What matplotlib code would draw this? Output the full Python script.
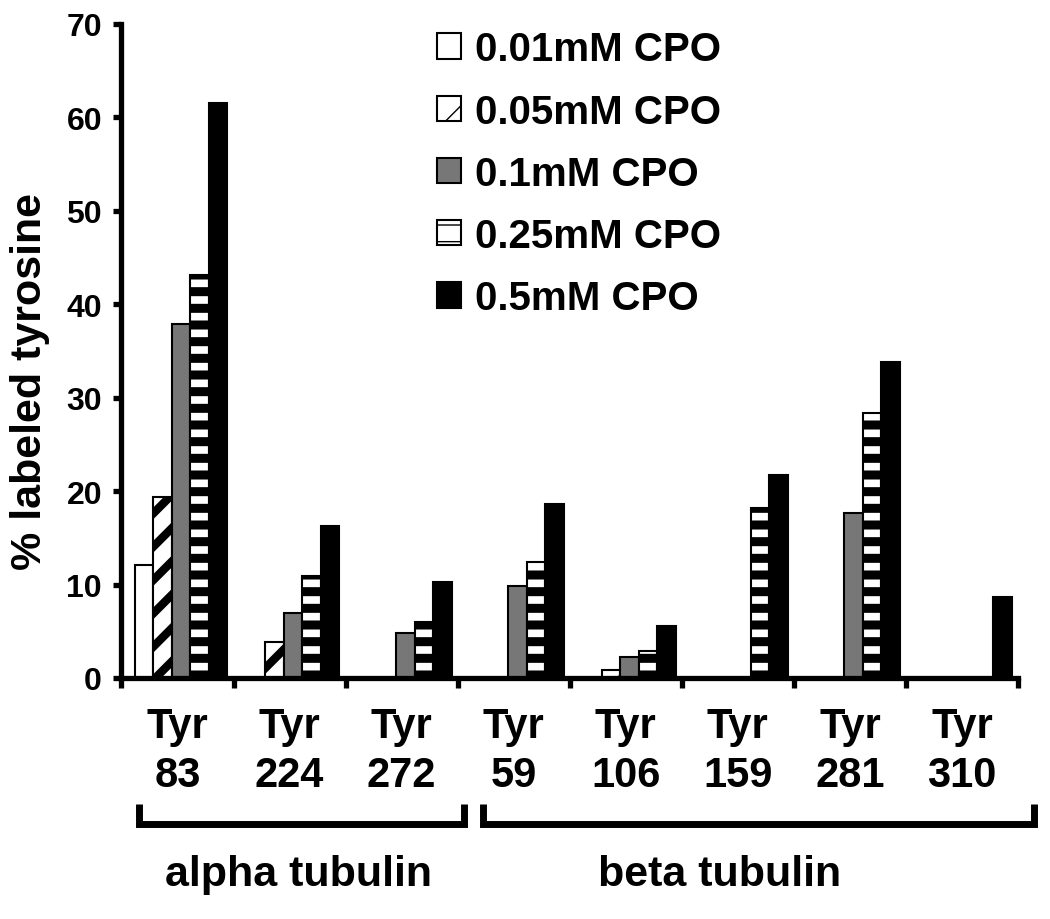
import numpy as np
import matplotlib
matplotlib.use("Agg")
import matplotlib.pyplot as plt
import matplotlib.transforms as mtransforms

plt.rcParams['font.family'] = ['Liberation Sans', 'DejaVu Sans']
plt.rcParams['font.weight'] = 'bold'
plt.rcParams['axes.labelweight'] = 'bold'

sites = ['Tyr\n83', 'Tyr\n224', 'Tyr\n272', 'Tyr\n59',
         'Tyr\n106', 'Tyr\n159', 'Tyr\n281', 'Tyr\n310']
series = ['0.01mM CPO', '0.05mM CPO', '0.1mM CPO', '0.25mM CPO', '0.5mM CPO']
cpo_001 = [12.1, 0, 0, 0, 0, 0, 0, 0]
cpo_005 = [19.4, 3.9, 0, 0, 0.8, 0, 0, 0]
cpo_01 = [37.9, 7.0, 4.8, 9.8, 2.2, 0, 17.6, 0]
cpo_025 = [43.1, 10.9, 6.0, 12.4, 2.9, 18.2, 28.4, 0]
cpo_05 = [61.5, 16.3, 10.3, 18.6, 5.6, 21.7, 33.8, 8.7]
groups = ['alpha tubulin', 'beta tubulin']

values = [cpo_001, cpo_005, cpo_01, cpo_025, cpo_05]
faces = ['white', 'white', '#777777', 'white', 'black']
hatches = [None, '/', None, '-', None]
hatch_lw = [1, 6.0, 1, 6.5, 1]

fig = plt.figure(figsize=(10.5, 9.2), dpi=100)
ax = fig.add_axes([0.1157, 0.262, 0.8538, 0.711])

x = np.arange(len(sites))
w = 0.165
start = 0.12
for i in range(5):
    with plt.rc_context({'hatch.linewidth': hatch_lw[i]}):
        bars = ax.bar(x + start + w * i, values[i], width=w, align='edge',
                      color=faces[i], edgecolor='black', linewidth=1.5,
                      hatch=hatches[i], label=series[i], zorder=2)
        for b in bars:
            if hasattr(b, 'set_hatch_linewidth'):
                b.set_hatch_linewidth(hatch_lw[i])

ax.set_xlim(0, len(sites))
ax.set_ylim(0, 70)
ax.set_yticks(range(0, 71, 10))
ax.tick_params(axis='y', labelsize=23, length=6, width=3.8, pad=8)

# labels between boundary ticks
ax.set_xticks(x + 0.5)
ax.set_xticklabels(sites, fontsize=30, linespacing=1.3)
ax.set_xticks(np.arange(len(sites) + 1), minor=True)
ax.tick_params(axis='x', which='major', length=0, pad=20)
ax.tick_params(axis='x', which='minor', length=7, width=3.8)

for s in ['top', 'right']:
    ax.spines[s].set_visible(False)
for s in ['left', 'bottom']:
    ax.spines[s].set_linewidth(3.8)

ax.set_ylabel('% labeled tyrosine', fontsize=31, fontweight='bold')
ax.yaxis.set_label_coords(-0.08, 0.454)

# group brackets
trans = mtransforms.blended_transform_factory(ax.transData, ax.transAxes)
for x0, x1 in [(0.152, 3.06), (3.23, 8.14)]:
    ax.plot([x0, x0, x1, x1], [-0.193, -0.224, -0.224, -0.193], color='black',
            lw=5, transform=trans, clip_on=False, solid_joinstyle='miter',
            solid_capstyle='butt')
ax.text(1.58, -0.30, groups[0], transform=trans, ha='center', va='center',
        fontsize=31)
ax.text(5.34, -0.30, groups[1], transform=trans, ha='center', va='center',
        fontsize=31)

ax.legend(loc='upper left', bbox_to_anchor=(0.352, 0.99), frameon=False,
          fontsize=29, handlelength=0.6, handleheight=0.6, handletextpad=0.35,
          labelspacing=0.6, borderpad=0, borderaxespad=0)

fig.savefig('out.png', dpi=100)
